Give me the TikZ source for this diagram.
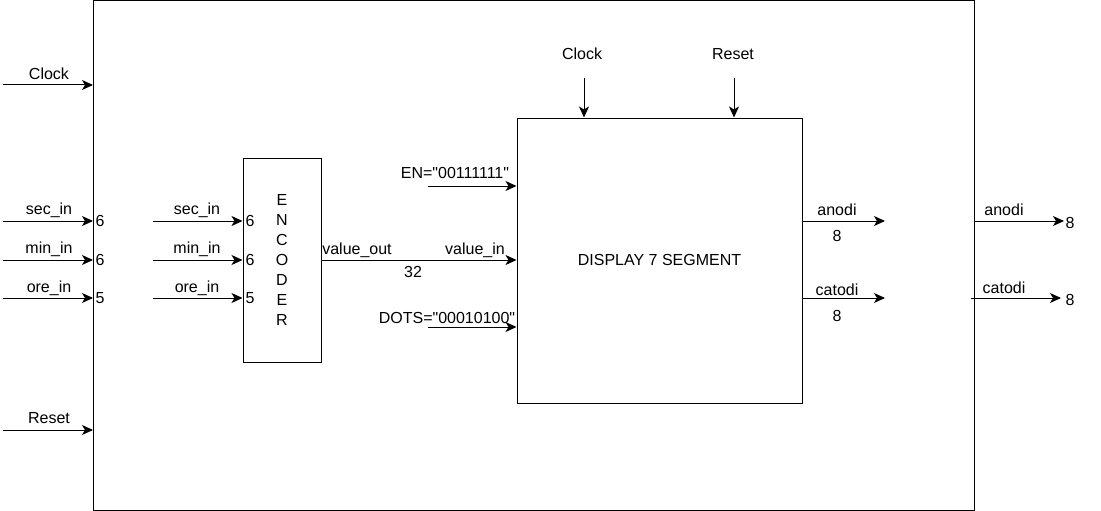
\documentclass[tikz,border=0pt]{standalone}
\usepackage{fontspec}
\setmainfont{Liberation Sans}[Ligatures=TeXOff]
\usetikzlibrary{arrows.meta}
\begin{document}
\begin{tikzpicture}[x=1pt,y=-1pt,
  every node/.style={font=\fontsize{16}{19}\selectfont, inner sep=0pt},
  blk/.style={draw, line width=1pt},
  sig/.style={line width=1pt, -{Stealth[length=11pt,width=10pt,inset=3pt]}}]
\useasboundingbox (0,0) rectangle (1101,511);
% outer box
\draw[blk] (93,1) rectangle (974,510);
% encoder
\node[blk, minimum width=78pt, minimum height=204pt] (enc) at (282,260) {};
\node[align=center, font=\fontsize{16}{20}\selectfont] (enctxt) at (282,260) {E\\N\\C\\O\\D\\E\\R};
% display
\node[blk, minimum width=285pt, minimum height=285pt] (disp) at (659.5,260.5) {};
\node (disptxt) at (659.5,260) {DISPLAY 7 SEGMENT};
% left outer inputs
\coordinate (clkS) at (3,85);   \coordinate (clkE) at (93,85);
\coordinate (secS) at (3,221);  \coordinate (secE) at (93,221);
\coordinate (minS) at (3,260);  \coordinate (minE) at (93,260);
\coordinate (oreS) at (3,298);  \coordinate (oreE) at (93,298);
\coordinate (rstS) at (3,430);  \coordinate (rstE) at (93,430);
\draw[sig] (clkS) -- (clkE);
\draw[sig] (secS) -- (secE);
\draw[sig] (minS) -- (minE);
\draw[sig] (oreS) -- (oreE);
\draw[sig] (rstS) -- (rstE);
\node (lclk) at (49,74) {Clock};
\node (lsec) at (49,210) {sec\_in};
\node (lmin) at (49,249) {min\_in};
\node (lore) at (49,288) {ore\_in};
\node (lrst) at (49,418) {Reset};
\node (n1) at (100,221) {6};
\node (n2) at (100,260) {6};
\node (n3) at (100,298) {5};
% encoder inputs
\coordinate (esecS) at (153,221); \coordinate (esecE) at (enc.west |- 0,221);
\coordinate (eminS) at (153,260); \coordinate (eminE) at (enc.west |- 0,260);
\coordinate (eoreS) at (153,298); \coordinate (eoreE) at (enc.west |- 0,298);
\draw[sig] (esecS) -- (esecE);
\draw[sig] (eminS) -- (eminE);
\draw[sig] (eoreS) -- (eoreE);
\node (elsec) at (197,210) {sec\_in};
\node (elmin) at (197,249) {min\_in};
\node (elore) at (197,288) {ore\_in};
\node (en1) at (250,221) {6};
\node (en2) at (250,260) {6};
\node (en3) at (250,298) {5};
% value
\draw[sig] (enc.east) -- (disp.west |- enc.east);
\node (lvo) at (357,250) {value\_out};
\node (lvi) at (475,250) {value\_in};
\node (l32) at (413,272) {32};
% EN and DOTS
\coordinate (enS) at (428,186);
\draw[sig] (enS) -- (disp.west |- enS);
\node (len) at (455,173) {EN="00111111"};
\coordinate (dotS) at (428,327);
\draw[sig] (dotS) -- (disp.west |- dotS);
\node (ldot) at (447,318) {DOTS="00010100"};
% top clock/reset
\coordinate (tclkS) at (584,78);
\coordinate (trstS) at (734,78);
\draw[sig] (tclkS) -- (tclkS |- disp.north);
\draw[sig] (trstS) -- (trstS |- disp.north);
\node (ltclk) at (582,54) {Clock};
\node (ltrst) at (733,54) {Reset};
% display outputs
\coordinate (anE) at (885,221);
\coordinate (caE) at (885,298);
\draw[sig] (disp.east |- anE) -- (anE);
\draw[sig] (disp.east |- caE) -- (caE);
\node (lan) at (837,210) {anodi};
\node (lan8) at (837,236) {8};
\node (lca) at (837,290) {catodi};
\node (lca8) at (837,316) {8};
% outer outputs
\coordinate (oanS) at (974,221); \coordinate (oanE) at (1064,221);
\coordinate (ocaS) at (971,298); \coordinate (ocaE) at (1061,298);
\draw[sig] (oanS) -- (oanE);
\draw[sig] (ocaS) -- (ocaE);
\node (loan) at (1004,210) {anodi};
\node (loca) at (1004,288) {catodi};
\node (loan8) at (1070,223) {8};
\node (loca8) at (1070,300) {8};
\end{tikzpicture}
\end{document}
